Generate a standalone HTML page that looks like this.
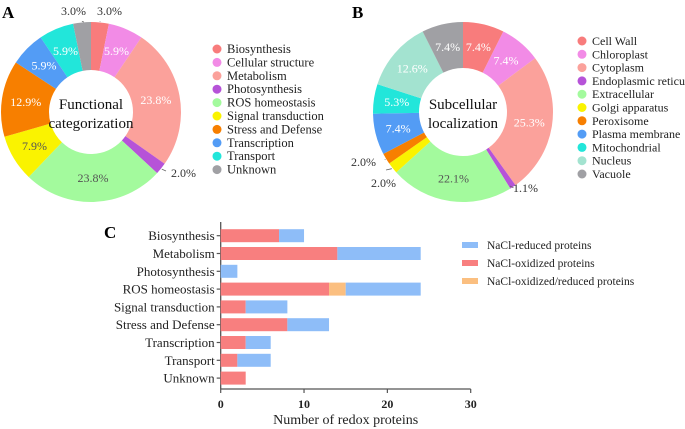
<!DOCTYPE html>
<html><head><meta charset="utf-8"><style>
html,body{margin:0;padding:0;background:#fff;}
svg{display:block;font-family:"Liberation Serif",serif;}
svg text{font-family:"Liberation Serif",serif;}
</style></head><body>
<svg id="fig" width="685" height="429" viewBox="0 0 685 429" font-family="Liberation Serif, serif">
<text x="2" y="18" font-size="17" font-weight="bold">A</text>
<text x="352" y="18" font-size="17" font-weight="bold">B</text>
<text x="104" y="238" font-size="17" font-weight="bold">C</text>
<g id="pieA"></g>
<g id="pieB"></g>
<g id="bars"></g>
</svg>
<script>
const catsA = ["Biosynthesis","Cellular structure","Metabolism","Photosynthesis","ROS homeostasis","Signal transduction","Stress and Defense","Transcription","Transport","Unknown"];
const valsA = [3.0,5.9,23.8,2.0,23.8,7.9,12.9,5.9,5.9,3.0];
const catsB = ["Cell Wall","Chloroplast","Cytoplasm","Endoplasmic reticulum","Extracellular","Golgi apparatus","Peroxisome","Plasma membrane","Mitochondrial","Nucleus","Vacuole"];
const valsB = [7.4,7.4,25.3,1.1,22.1,2.0,2.0,7.4,5.3,12.6,7.4];
const barCats = ["Biosynthesis","Metabolism","Photosynthesis","ROS homeostasis","Signal transduction","Stress and Defense","Transcription","Transport","Unknown"];
const oxidized = [7,14,0,13,3,8,3,2,3];
const oxRed = [0,0,0,2,0,0,0,0,0];
const reduced = [3,10,2,9,5,5,3,4,0];
const xTicks = [0,10,20,30];
const seriesNames = ["NaCl-reduced proteins","NaCl-oxidized proteins","NaCl-oxidized/reduced proteins"];

const NS="http://www.w3.org/2000/svg";
function mk(tag,attrs,parent,txt){const e=document.createElementNS(NS,tag);for(const k in attrs)e.setAttribute(k,attrs[k]);if(txt!==undefined)e.textContent=txt;parent.appendChild(e);return e;}
const colA=["#F87C7C","#F28BE6","#FBA19B","#B653D8","#A3FA9D","#FAF300","#F77F00","#539CF5","#22E6DA","#A0A0A4"];
const colB=["#F87C7C","#F28BE6","#FBA19B","#B653D8","#A3FA9D","#FAF300","#F77F00","#539CF5","#22E6DA","#A3E3D0","#A0A0A4"];

function donut(g,cats,vals,cols,cx,cy,R,r,title,legX,legY,legStep,legFs,outside,darkIdx){
  const tot=vals.reduce((a,b)=>a+b,0);let a0=0;
  vals.forEach((v,i)=>{
    const a1=a0+v/tot*2*Math.PI;
    const p=(a,rad)=>[cx+rad*Math.sin(a),cy-rad*Math.cos(a)];
    const [x1,y1]=p(a0,R),[x2,y2]=p(a1,R),[x3,y3]=p(a1,r),[x4,y4]=p(a0,r);
    const lg=(a1-a0)>Math.PI?1:0;
    const s=mk("path",{d:`M${x1},${y1}A${R},${R} 0 ${lg} 1 ${x2},${y2}L${x3},${y3}A${r},${r} 0 ${lg} 0 ${x4},${y4}Z`,fill:cols[i]},g);
    
    
    const am=(a0+a1)/2;
    const lab=v.toFixed(1)+"%";
    if(outside[i]){
      const o=outside[i];const [lx,ly]=p(am,R+1);
      const l=mk("polyline",{points:`${lx},${ly} ${o[2]},${o[3]}`,fill:"none",stroke:"#666","stroke-width":0.8},g);
      
      
      const t=mk("text",{x:o[0],y:o[1],"font-size":12,fill:"#333","text-anchor":o[4]||"start"},g,lab);
      
      
    }else{
      const [tx,ty]=p(am,(R+r)/2);
      const t=mk("text",{x:tx,y:ty+4,"font-size":12,fill:darkIdx.includes(i)?"#555":"#fff","text-anchor":"middle"},g,lab);
      
      
    }
    a0=a1;
  });
  title.forEach((tl,k)=>{const t=mk("text",{x:cx,y:cy-3+k*19,"font-size":15,fill:"#111","text-anchor":"middle"},g,tl);
    
    });
  cats.forEach((c,i)=>{
    const y=legY+i*legStep;
    const d=mk("circle",{cx:legX,cy:y,r:4.5,fill:cols[i]},g);
    
    
    const t=mk("text",{x:legX+10,y:y+4,"font-size":legFs,fill:"#222"},g,c);
    
    
  });
}
donut(document.getElementById("pieA"),catsA,valsA,colA,91,112,90,42,["Functional","categorization"],217,49,13.4,12.5,
 {0:[97,15,100,22],3:[171,177,166,171],9:[86,15,84,22,"end"]},[4,5]);
donut(document.getElementById("pieB"),catsB,valsB,colB,463,112,90,44,["Subcellular","localization"],582,41,13.3,12,
 {3:[513,192,510,186],5:[371,187,386,170],6:[376,166,385,160,"end"]},[4,5]);

const bg=document.getElementById("bars");
const x0=220.7,x1=470.7,xmax=30;const X=v=>x0+(x1-x0)*v/xmax;
const yTop=235.7,step=17.8,bh=13;const Y=i=>yTop+i*step;
const ax=mk("line",{x1:x0,y1:222,x2:x0,y2:389,stroke:"#555","stroke-width":1.3},bg);

const axx=mk("line",{x1:x0,y1:389,x2:x1,y2:389,stroke:"#555","stroke-width":1.3},bg);

barCats.forEach((c,i)=>{
  const y=Y(i);
  const tk=mk("line",{x1:x0-4,y1:y,x2:x0,y2:y,stroke:"#555","stroke-width":1.2},bg);
  
  const t=mk("text",{x:x0-6,y:y+4.5,"font-size":13,"text-anchor":"end",fill:"#222"},bg,c);
  
  let s=0;
  [[oxidized,"#F87F7F","bar-oxidized"],[oxRed,"#FBBF80","bar-oxidized-reduced"],[reduced,"#8EBDF8","bar-reduced"]].forEach(([arr,col,nm])=>{
    const v=arr[i];if(v>0){const r=mk("rect",{x:X(s),y:y-bh/2,width:X(s+v)-X(s),height:bh,fill:col},bg);
      }
    s+=v;
  });
});
xTicks.forEach(v=>{
  const tk=mk("line",{x1:X(v),y1:389,x2:X(v),y2:393,stroke:"#555","stroke-width":1.2},bg);
  
  const t=mk("text",{x:X(v),y:408,"font-size":12,"font-weight":"bold","text-anchor":"middle",fill:"#222"},bg,v);
  
});
const xt=mk("text",{x:X(15),y:424,"font-size":14,"text-anchor":"middle",fill:"#222"},bg,"Number of redox proteins");

const legCols=["#8EBDF8","#F87F7F","#FBBF80"];
seriesNames.forEach((n,i)=>{
  const y=245+i*18;
  const r=mk("rect",{x:462,y:y-3,width:16,height:6,fill:legCols[i]},bg);
  
  const t=mk("text",{x:487,y:y+4,"font-size":11.5,fill:"#222"},bg,n);
  
});
</script>
</body></html>
